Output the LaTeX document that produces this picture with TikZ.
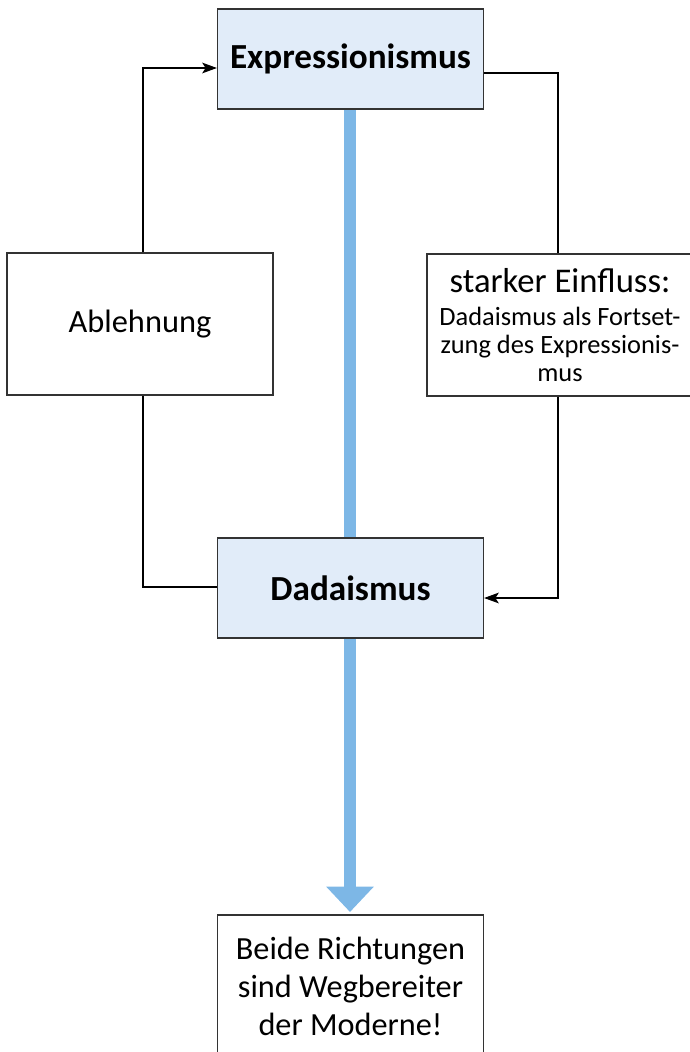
\documentclass[tikz,border=0pt]{standalone}
\usepackage{fontspec}
\setmainfont{Carlito}
\usetikzlibrary{arrows.meta,calc}
\definecolor{boxfill}{HTML}{E1ECF9}
\definecolor{flow}{HTML}{7DB7E6}
\definecolor{edge}{HTML}{333333}
\begin{document}
\begin{tikzpicture}[x=0.75pt,y=-0.75pt,
  box/.style={draw=edge,line width=0.9pt,rectangle,inner sep=0pt,align=center,
    minimum width=199.5pt,minimum height=106.5pt},
  head/.style={box,fill=boxfill,minimum height=75pt,font=\fontsize{26.4}{30}\selectfont\bfseries},
  conn/.style={draw=black,line width=0.8pt},
  tip/.style={-{Stealth[length=11pt,width=8pt,inset=2.5pt]}},
  flowline/.style={draw=flow,line width=9pt}]
\useasboundingbox (0,0) rectangle (689,1052);
% flow lines behind boxes
\coordinate (f1) at (350,109);
\coordinate (f2) at (350,538);
\coordinate (f3) at (350,638);
\coordinate (f4) at (350,912);
\draw[flowline] (f1) -- (f2);
\draw[flowline,-{Triangle[width=34.5pt,length=19pt]}] (f3) -- (f4);
\node[head] (exp) at (350.5,59) {Expressionismus};
\node[head] (dada) at (350.5,588) {Dadaismus};
\node[box,font=\fontsize{24.3}{28}\selectfont] (abl) at (140,324) {Ablehnung};
\node[box,font=\fontsize{19.8}{21}\selectfont] (ein) at (560,325)
  {{\fontsize{26}{28}\selectfont starker Einfluss:}\\[4pt]
   Dadaismus als Fortset-\\zung des Expressionis-\\mus};
\node[box,font=\fontsize{24.2}{28.5}\selectfont] (res) at (350.5,986)
  {Beide Richtungen\\sind Wegbereiter\\der Moderne!};
% connectors
\draw[conn,tip] ($(abl.north)+(3,0)$) |- ($(exp.west)+(0,9)$);
\draw[conn] ($(abl.south)+(3,0)$) |- ($(dada.west)+(0,-1)$);
\draw[conn] ($(exp.east)+(0,14)$) -| ($(ein.north)+(-2,0)$);
\draw[conn,tip] ($(ein.south)+(-2,0)$) |- ($(dada.east)+(0,10)$);
\end{tikzpicture}
\end{document}
